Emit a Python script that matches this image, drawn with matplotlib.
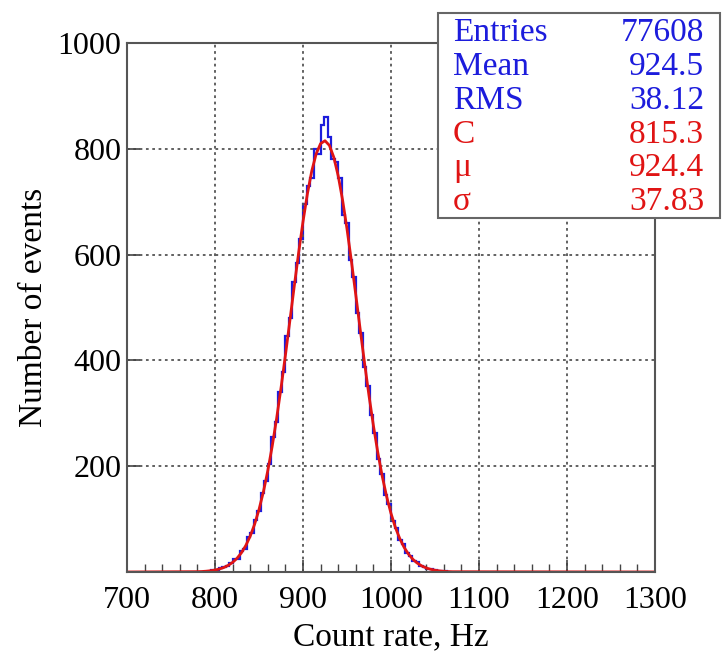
import numpy as np
import matplotlib.pyplot as plt
from matplotlib.ticker import MultipleLocator, FixedLocator

plt.rcParams["font.family"] = ["Liberation Serif", "DejaVu Serif"]

# Histogram (bin edges every 4 Hz starting at 796)
bin_left = 796
bin_width = 4
counts = [4, 3, 7, 10, 12, 17, 24, 25, 39, 44, 66, 74, 99, 115, 150, 172,
          205, 255, 284, 340, 378, 447, 480, 548, 585, 630, 695, 730, 745,
          800, 790, 845, 860, 822, 780, 775, 745, 675, 660, 590, 557, 490,
          452, 388, 352, 296, 262, 213, 185, 146, 128, 97, 84, 60, 52, 36,
          31, 20, 18, 11, 10, 6, 5, 3, 2, 2, 1]

# Gaussian fit curve
fit_x = [700, 780, 785, 790, 795, 800, 805, 810, 815, 820, 825, 830, 835,
         840, 845, 850, 855, 860, 865, 870, 875, 880, 885, 890, 895, 900,
         905, 910, 915, 920, 925, 930, 935, 940, 945, 950, 955, 960, 965,
         970, 975, 980, 985, 990, 995, 1000, 1005, 1010, 1015, 1020, 1025,
         1030, 1035, 1040, 1045, 1050, 1055, 1060, 1065, 1070, 1300]
fit_y = [0, 0.6, 0.9, 1.5, 2.4, 3.7, 5.6, 8.4, 12.5, 18.1, 25.8, 36.2, 50.0,
         67.7, 90.1, 117.9, 151.5, 191.4, 237.6, 289.9, 347.6, 409.4, 473.9,
         539.3, 602.8, 662.2, 714.9, 758.3, 790.5, 809.8, 815.2, 806.4,
         783.9, 748.9, 702.9, 648.4, 587.8, 523.7, 458.4, 394.3, 333.3,
         276.9, 226.0, 181.3, 142.9, 110.7, 84.2, 63.0, 46.3, 33.5, 23.7,
         16.6, 11.4, 7.6, 5.1, 3.3, 2.1, 1.3, 0.8, 0.5, 0]

stat_labels = ["Entries", "Mean", "RMS", "C", "\u03bc", "\u03c3"]
stat_values = ["77608", "924.5", "38.12", "815.3", "924.4", "37.83"]
stat_colors = ["#1c1cdc"] * 3 + ["#e01414"] * 3

fig = plt.figure(figsize=(7.24, 6.57), dpi=100)
ax = fig.add_axes([0.1754, 0.1294, 0.7293, 0.8052])

edges = bin_left + bin_width * np.arange(len(counts) + 1)
ax.stairs(counts, edges, color="#1c1cdc", linewidth=1.6)
ax.plot(fit_x, fit_y, color="#e01414", linewidth=2.0)

ax.set_xlim(700, 1300)
ax.set_ylim(0, 1000)
ax.xaxis.set_major_locator(MultipleLocator(100))
ax.xaxis.set_minor_locator(MultipleLocator(20))
ax.yaxis.set_major_locator(FixedLocator([0, 200, 400, 600, 800, 1000]))
ax.set_yticklabels(["", "200", "400", "600", "800", "1000"])
ax.tick_params(direction="in", labelsize=23, color="#444444", length=9, width=1.2)
ax.tick_params(which="minor", direction="in", length=6, width=1.0, color="#444444")
ax.tick_params(axis="x", pad=10)
ax.tick_params(axis="y", pad=4)
for s in ax.spines.values():
    s.set_color("#555555")
    s.set_linewidth(1.5)
ax.grid(True, which="major", linestyle=(0, (1.5, 2)), color="#555555", linewidth=1.3)

ax.set_xlabel("Count rate, Hz", fontsize=24, labelpad=5)
ax.set_ylabel("Number of events", fontsize=24, labelpad=6)

# Stats box
box_l, box_b, box_w, box_h = 438 / 724, 1 - 218 / 657, 282 / 724, 205 / 657
fig.patches.append(plt.Rectangle((box_l, box_b), box_w, box_h, transform=fig.transFigure,
                                 facecolor="white", edgecolor="#666666", linewidth=1.5,
                                 zorder=5))
for i in range(len(stat_labels)):
    y = 1 - (33 + 33.8 * i) / 657
    fig.text(453 / 724, y, stat_labels[i], color=stat_colors[i], fontsize=24,
             va="center", ha="left", zorder=6)
    fig.text(704 / 724, y, stat_values[i], color=stat_colors[i], fontsize=24,
             va="center", ha="right", zorder=6)

fig.savefig("out.png", dpi=100)
